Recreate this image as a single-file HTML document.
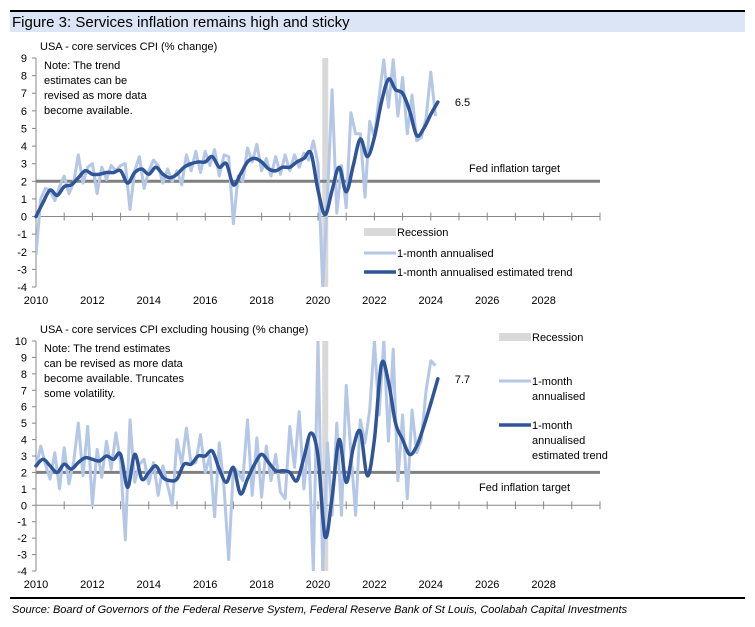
<!DOCTYPE html>
<html><head><meta charset="utf-8"><style>
body{margin:0;background:#fff;font-family:"Liberation Sans",sans-serif;}
svg text{font-family:"Liberation Sans",sans-serif;}
</style></head><body>
<svg width="755" height="622" viewBox="0 0 755 622">
<rect x="10" y="10" width="735" height="2" fill="#000"/>
<rect x="10" y="12" width="735" height="20" fill="#dbe5f5"/>
<text x="12" y="27" font-size="15" fill="#000">Figure 3: Services inflation remains high and sticky</text>
<g id="c1"></g>
<g id="c2"></g>
<rect x="10" y="597" width="735" height="2" fill="#000"/>
<text x="12" y="613" font-size="11" font-style="italic" fill="#000">Source: Board of Governors of the Federal Reserve System, Federal Reserve Bank of St Louis, Coolabah Capital Investments</text>
</svg>
<script>
// Chart 1 data
const monthly1 = [-2.2,1.0,1.6,1.5,0.9,1.7, 2.3,1.3,1.9,3.5,1.9,2.8, 3.0,1.3,2.8,2.1,2.9,2.6, 2.9,3.0,0.4,2.6,3.4,1.6, 2.6,3.2,2.9,1.9,2.7,2.0, 2.6,1.8,3.5,2.6,3.7,2.5, 3.7,2.9,3.8,2.3,3.5,3.4, -0.4,2.3,2.0,3.9,3.1,4.1, 2.6,3.3,2.3,3.4,2.4,3.5, 2.6,3.5,2.8,3.6,3.2,4.3, 3.0,-4.0,1.0,7.2,0.2,2.9, 0.5,5.9,4.7,4.7,1.1,5.4, 4.5,6.8,8.9,6.2,8.9,5.7, 7.9,4.7,6.9,4.3,4.5,5.6, 8.2,5.7];
const trend1 = [0,0.8,1.5,1.2, 1.7,1.8,2.2,2.6, 2.4,2.4,2.5,2.5, 2.6,1.9,2.5,2.7, 2.4,2.8,2.4,2.2, 2.4,2.8,3.0,3.1, 3.1,3.4,2.8,3.0, 1.8,2.4,3.1,3.3, 3.1,2.7,2.6,2.8, 2.8,3.1,3.3,3.6, 1.5,0.1,1.5,2.8, 1.4,2.9,4.4,3.4, 4.5,6.5,7.8,7.2, 7.0,6.0,4.6,5.0, 5.8,6.5];
const yTicks1 = [9,8,7,6,5,4,3,2,1,0,-1,-2,-3,-4];
// Chart 2 data
const monthly2 = [2.3,3.6,2.5,1.6,3.2,1.0, 3.5,1.3,2.6,5.0,1.8,4.8, 0.0,3.4,1.7,3.9,2.2,4.4, 2.6,-2.1,5.2,1.4,2.5,2.8, 1.3,2.6,0.6,2.4,1.2,0.0, 4.0,2.5,4.7,2.5,2.6,4.3, 2.0,3.0,-0.7,3.8,1.1,-3.3, 2.3,2.0,1.5,5.2,0.6,4.1, 0.5,3.6,1.5,3.1,0.8,0.4, 4.8,2.3,5.7,1.0,4.0,-4.0, 10,-4.0,3.8,-0.6,5.0,-0.6, 7.3,3.2,-0.6,5.2,3.8,5.8, 10,5.5,10,3.9,9.5,1.5, 5.5,0.4,5.8,3.2,4.0,7.0, 8.8,8.5];
const trend2 = [2.4,2.8,2.4,2.0, 2.5,2.2,2.6,2.9, 2.8,2.7,3.0,2.8, 3.1,1.1,3.1,1.6, 2.0,2.4,1.7,1.5, 1.6,2.5,2.5,3.0, 3.0,3.3,2.2,1.4, 2.3,0.7,1.6,2.5, 3.1,2.6,2.1,2.1, 2.0,1.5,2.9,4.4, 3.0,-1.9,0.5,4.0, 1.4,3.5,4.5,1.8, 4.0,8.6,7.5,5.0, 4.0,3.1,3.6,4.8, 6.2,7.7];
const yTicks2 = [10,9,8,7,6,5,4,3,2,1,0,-1,-2,-3,-4];
const xTicks = [2010,2012,2014,2016,2018,2020,2022,2024,2026,2028];

const NS='http://www.w3.org/2000/svg';
function mk(parent,tag,attrs){const e=document.createElementNS(NS,tag);for(const k in attrs)e.setAttribute(k,attrs[k]);parent.appendChild(e);return e;}
function xS(yr){return 36+(yr-2010)*28.2;}

function draw(g,cfg){
  const yS=v=>cfg.top+(cfg.max-v)*(cfg.bottom-cfg.top)/(cfg.max-cfg.min);
  const rec=mk(g,'rect',{x:xS(2020.15),y:cfg.top,width:6,height:cfg.bottom-cfg.top,fill:'#d9d9d9'});
  
  
  const ya=mk(g,'line',{x1:36,x2:36,y1:cfg.top,y2:cfg.bottom,stroke:'#888','stroke-width':1});
  
  
  cfg.ticks.forEach(t=>{
    mk(g,'line',{x1:32,x2:36,y1:yS(t),y2:yS(t),stroke:'#888'});
    const tx=mk(g,'text',{x:27,y:yS(t)+4,'font-size':11,'text-anchor':'end'});tx.textContent=t;
    
    
  });
  const y0=yS(0);
  const xa=mk(g,'line',{x1:36,x2:600,y1:y0,y2:y0,stroke:'#888'});
  
  
  for(let y=2010;y<=2030;y++){mk(g,'line',{x1:xS(y),x2:xS(y),y1:y0-4,y2:y0+4,stroke:'#888'});}
  xTicks.forEach(t=>{
    const tx=mk(g,'text',{x:xS(t),y:cfg.bottom+17,'font-size':11,'text-anchor':'middle'});tx.textContent=t;
    
    
  });
  const tg=mk(g,'line',{x1:36,x2:600,y1:yS(2),y2:yS(2),stroke:'#808080','stroke-width':3});
  
  
  const clipId='clip'+cfg.id;
  const cp=mk(g,'clipPath',{id:clipId});mk(cp,'rect',{x:36,y:cfg.top,width:570,height:cfg.bottom-cfg.top});
  const p1=mk(g,'polyline',{points:cfg.monthly.map((v,i)=>xS(2010+i/6)+','+yS(v)).join(' '),fill:'none',stroke:'#b4c7e7','stroke-width':3,'stroke-linejoin':'round','clip-path':'url(#'+clipId+')'});
  
  
  const pts=cfg.trend.map((v,i)=>[xS(2010+i/4),yS(v)]);
  let d='M'+pts[0][0]+','+pts[0][1];
  for(let i=0;i<pts.length-1;i++){
    const p0=pts[Math.max(0,i-1)],a=pts[i],b=pts[i+1],p3=pts[Math.min(pts.length-1,i+2)];
    d+=' C'+(a[0]+(b[0]-p0[0])/6)+','+(a[1]+(b[1]-p0[1])/6)+' '+(b[0]-(p3[0]-a[0])/6)+','+(b[1]-(p3[1]-a[1])/6)+' '+b[0]+','+b[1];
  }
  const p2=mk(g,'path',{d:d,fill:'none',stroke:'#2f5597','stroke-width':3.5,'stroke-linecap':'round'});
  
  
  const last=pts[pts.length-1];
  const lv=mk(g,'text',{x:last[0]+17,y:last[1]+4,'font-size':11});lv.textContent=cfg.trend[cfg.trend.length-1].toFixed(1);
  
  
  const ft=mk(g,'text',{x:cfg.fedX,y:cfg.fedY,'font-size':11});ft.textContent='Fed inflation target';
  
  
  const tt=mk(g,'text',{x:40,y:cfg.top-8,'font-size':11});tt.textContent=cfg.title;
  
  
  cfg.note.forEach((s,i)=>{const n=mk(g,'text',{x:44,y:cfg.top+11+i*15,'font-size':11});n.textContent=s;
    
    });
  // legend
  const L=cfg.legend;
  const r=mk(g,'rect',{x:L.x,y:L.y[0]-4,width:32,height:8,fill:'#d9d9d9'});
  
  
  mk(g,'line',{x1:L.x,x2:L.x+32,y1:L.y[1],y2:L.y[1],stroke:'#b4c7e7','stroke-width':3});
  mk(g,'line',{x1:L.x,x2:L.x+32,y1:L.y[2],y2:L.y[2],stroke:'#2f5597','stroke-width':3.5});
  L.labels.forEach((lines,k)=>{lines.forEach((s,j)=>{const t=mk(g,'text',{x:L.x+33,y:L.y[k]+4+j*15,'font-size':11});t.textContent=s;
    
    });});
}
draw(document.getElementById('c1'),{id:1,top:58,bottom:287,max:9,min:-4,ticks:yTicks1,monthly:monthly1,trend:trend1,
  title:'USA - core  services CPI (% change)',note:['Note: The trend','estimates can be','revised as more data','become available.'],
  fedX:469,fedY:172,legend:{x:364,y:[232,253,272],labels:[['Recession'],['1-month annualised'],['1-month annualised estimated trend']]}});
draw(document.getElementById('c2'),{id:2,top:341,bottom:571,max:10,min:-4,ticks:yTicks2,monthly:monthly2,trend:trend2,
  title:'USA - core  services CPI excluding housing (% change)',note:['Note: The trend estimates','can be revised as more data','become available.  Truncates','some volatility.'],
  fedX:479,fedY:491,legend:{x:499,y:[337,381,425],labels:[['Recession'],['1-month','annualised'],['1-month','annualised','estimated trend']]}});
</script>
</body></html>
